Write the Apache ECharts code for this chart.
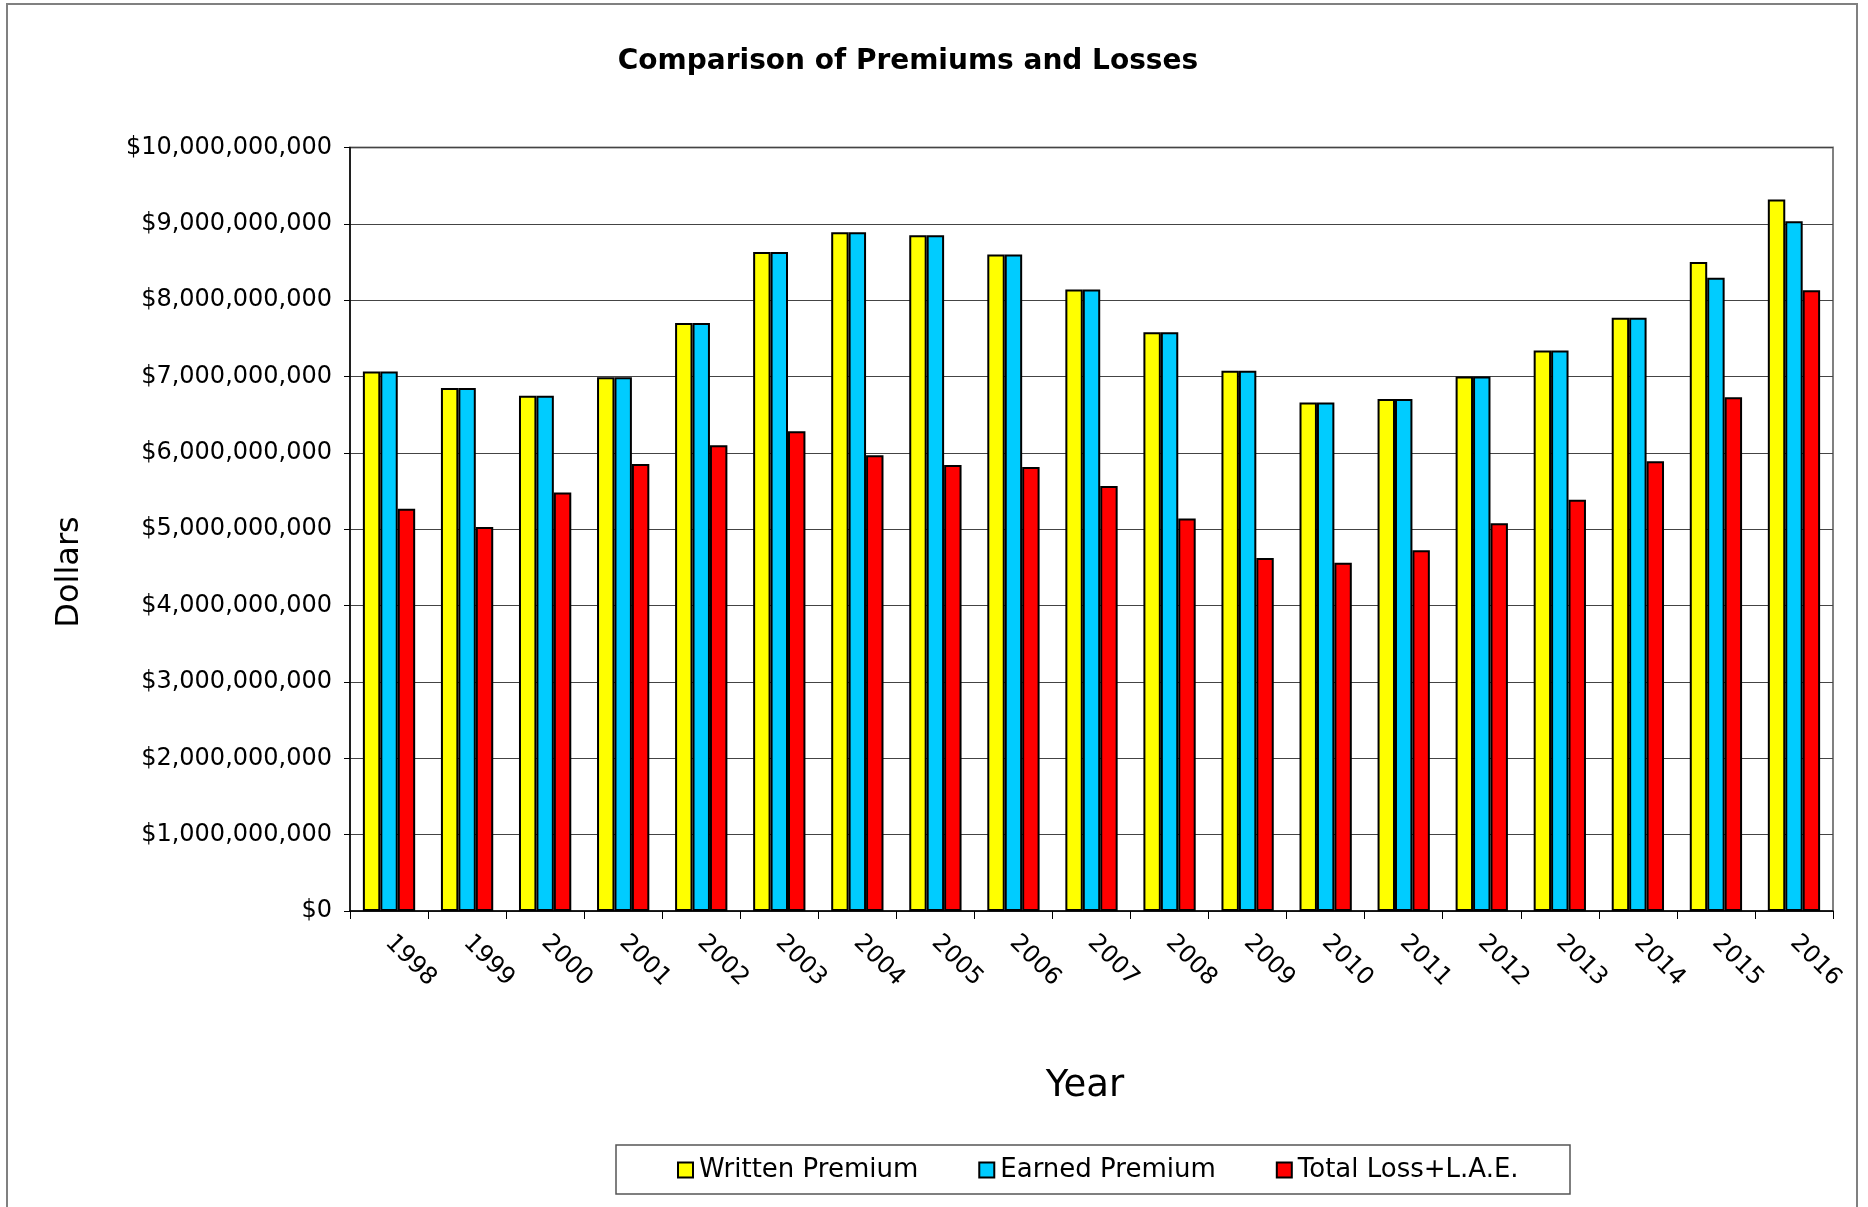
<!DOCTYPE html>
<html>
<head>
<meta charset="utf-8">
<script src="https://cdn.jsdelivr.net/npm/echarts@6/dist/echarts.min.js"></script>
<style>
html,body{margin:0;padding:0;background:#fff;}
#chart{width:1868px;height:1207px;}
</style>
</head>
<body>
<div id="chart"></div>
<script>
const years = ['1998','1999','2000','2001','2002','2003','2004','2005','2006','2007','2008','2009','2010','2011','2012','2013','2014','2015','2016'];
const writtenPremium = [7065e6,6850e6,6750e6,6990e6,7700e6,8630e6,8890e6,8850e6,8600e6,8140e6,7580e6,7075e6,6660e6,6705e6,7000e6,7340e6,7770e6,8500e6,9320e6];
const earnedPremium  = [7065e6,6850e6,6750e6,6990e6,7700e6,8630e6,8890e6,8850e6,8600e6,8140e6,7580e6,7075e6,6660e6,6705e6,7000e6,7340e6,7770e6,8295e6,9035e6];
const totalLossLAE   = [5270e6,5030e6,5480e6,5855e6,6100e6,6285e6,5970e6,5840e6,5815e6,5565e6,5140e6,4625e6,4560e6,4725e6,5080e6,5385e6,5890e6,6730e6,8130e6];
const seriesNames = ['Written Premium','Earned Premium','Total Loss+L.A.E.'];
const yTicks = {min:0, max:10000000000, interval:1000000000};

const FONT = 'DejaVu Sans';
function money(v){ return '$' + String(Math.round(v)).replace(/\B(?=(\d{3})+(?!\d))/g, ','); }

const chart = echarts.init(document.getElementById('chart'), null, {renderer:'canvas'});
const barStyle = c => ({color:c, borderColor:'#000', borderWidth:2});
chart.setOption({
  backgroundColor:'#fff',
  animation:false,
  title:{
    text:'Comparison of Premiums and Losses',
    left:903, top:43, textAlign:'center',
    textStyle:{fontFamily:FONT, fontWeight:'bold', fontSize:28, color:'#000'}
  },
  graphic:[
    {type:'rect', shape:{x:7,y:4,width:1850,height:1220}, style:{fill:null, stroke:'#808080', lineWidth:2}, z:-1},
    {type:'rect', shape:{x:616,y:1145,width:954,height:49}, style:{fill:null, stroke:'#555', lineWidth:1.5}, z:-1},
    {type:'text', x:70, y:572, rotation:Math.PI/2, style:{text:'Dollars', fontFamily:FONT, fontSize:32, fill:'#000', textAlign:'center', textVerticalAlign:'middle'}},
    {type:'text', x:1085, y:1086, style:{text:'Year', fontFamily:FONT, fontSize:37, fill:'#000', textAlign:'center', textVerticalAlign:'middle'}}
  ],
  legend:{
    data:seriesNames,
    left:677, top:1157, padding:0,
    itemWidth:15, itemHeight:15, itemGap:60,
    icon:'rect',
    itemStyle:{borderColor:'#000', borderWidth:2},
    textStyle:{fontFamily:FONT, fontSize:26, color:'#000', padding:[0,0,0,1]}
  },
  grid:{left:350, right:35, top:147.5, bottom:296, show:true, borderColor:'#808080', borderWidth:2, containLabel:false},
  xAxis:{
    type:'category', data:years,
    axisLine:{lineStyle:{color:'#000', width:1.5}},
    axisTick:{show:true, length:8, lineStyle:{color:'#000'}},
    axisLabel:{rotate:-45, margin:28, fontFamily:FONT, fontSize:24, color:'#000'}
  },
  yAxis:{
    type:'value', min:yTicks.min, max:yTicks.max, interval:yTicks.interval,
    axisLine:{show:true, lineStyle:{color:'#000', width:1.5}},
    axisTick:{show:true, length:6, lineStyle:{color:'#000'}},
    splitLine:{show:true, lineStyle:{color:'#444', width:1.2}},
    axisLabel:{margin:18, fontFamily:FONT, fontSize:24, color:'#000', formatter:money}
  },
  series:[
    {name:seriesNames[0], type:'bar', data:writtenPremium, barGap:'0%', barCategoryGap:'33%', itemStyle:barStyle('#FFFF00')},
    {name:seriesNames[1], type:'bar', data:earnedPremium, barGap:'0%', barCategoryGap:'33%', itemStyle:barStyle('#00CCFF')},
    {name:seriesNames[2], type:'bar', data:totalLossLAE, barGap:'0%', barCategoryGap:'33%', itemStyle:barStyle('#FF0000')}
  ]
});
</script>
</body>
</html>
